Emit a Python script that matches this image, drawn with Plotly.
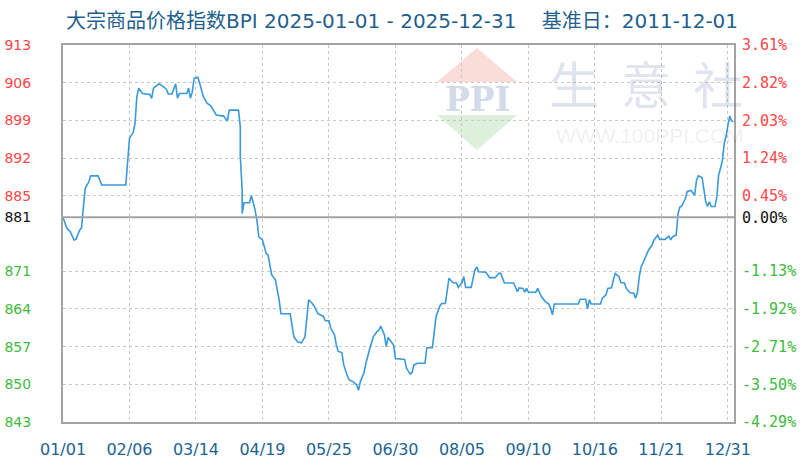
import plotly.graph_objects as go

# ---------------- data ----------------
TITLE = "大宗商品价格指数BPI 2025-01-01 - 2025-12-31\u00a0\u00a0\u00a0\u00a0基准日：2011-12-01"
BASE = 881

day_offsets = [0, 2, 4, 6, 7, 9, 10, 11, 12, 14, 15, 19, 21, 34, 35, 36, 38, 39, 40, 41,
               43, 47, 48, 49, 52, 53, 56, 57, 59, 61, 62, 63, 67, 68, 69, 70, 71, 73, 74, 76,
               78, 80, 83, 87, 89, 90, 95, 96, 96, 97, 97, 98, 101, 102, 104, 105, 106, 108, 110, 111,
               113, 115, 117, 118, 123, 124, 125, 127, 129, 131, 132, 133, 135, 136, 138, 141, 142, 144, 145, 147,
               148, 149, 151, 152, 154, 155, 157, 159, 160, 161, 163, 164, 166, 168, 170, 171, 172, 174, 175, 176,
               179, 180, 185, 186, 188, 189, 190, 192, 196, 197, 200, 201, 202, 204, 205, 207, 208, 209, 211, 213,
               214, 216, 217, 218, 221, 222, 223, 224, 225, 229, 231, 234, 236, 237, 239, 244, 246, 247, 249, 250,
               251, 252, 256, 257, 259, 261, 263, 264, 265, 266, 279, 280, 283, 284, 285, 286, 291, 292, 294, 295,
               297, 298, 299, 301, 302, 304, 305, 307, 309, 310, 311, 312, 313, 314, 316, 317, 319, 320, 322, 323,
               326, 328, 329, 330, 332, 333, 334, 335, 337, 338, 340, 342, 343, 344, 346, 347, 348, 349, 350, 351,
               353, 354, 355, 356, 357, 358, 359, 360, 361, 362, 363]
bpi_values = [881.0, 879.0, 878.3, 876.8, 876.9, 878.6, 879.0, 883.0, 886.4, 887.6, 888.7, 888.7, 887.0, 887.0, 892.0, 895.7, 896.7, 898.5, 903.4, 905.0,
              904.0, 903.8, 903.1, 905.0, 905.8, 905.6, 904.8, 903.9, 903.9, 905.8, 903.1, 904.0, 904.0, 905.0, 903.1, 904.3, 906.8, 907.0, 905.9, 903.4,
              902.2, 901.7, 900.0, 899.8, 898.9, 900.9, 900.9, 897.8, 892.3, 886.1, 881.7, 883.7, 883.7, 885.0, 882.4, 880.5, 877.4, 876.8, 874.3, 874.0,
              870.3, 869.4, 865.7, 863.1, 863.1, 861.0, 858.8, 857.9, 857.7, 858.8, 862.6, 865.7, 865.0, 864.5, 863.1, 862.6, 861.8, 861.8, 860.4, 859.2,
              857.3, 856.1, 855.9, 853.6, 851.5, 850.8, 850.5, 849.9, 848.9, 850.5, 852.2, 853.9, 856.5, 858.8, 859.8, 860.0, 860.8, 859.2, 857.0, 858.7,
              857.3, 854.8, 854.6, 853.0, 851.9, 852.2, 853.6, 853.9, 853.9, 856.8, 856.8, 859.5, 862.6, 864.5, 865.0, 865.0, 867.6, 869.7, 868.9, 868.8,
              868.0, 868.9, 870.0, 868.0, 868.0, 869.7, 871.2, 871.8, 870.9, 870.8, 869.8, 869.8, 870.6, 870.6, 868.8, 868.8, 867.2, 867.9, 867.8, 867.1,
              867.8, 867.1, 867.1, 867.8, 866.3, 865.4, 864.9, 864.1, 862.9, 864.9, 864.9, 865.8, 865.8, 864.0, 865.7, 864.9, 864.9, 866.0, 866.6, 867.8,
              867.9, 869.4, 870.6, 870.0, 868.9, 868.8, 867.8, 867.0, 866.9, 866.0, 867.0, 870.0, 871.8, 872.5, 874.3, 874.9, 875.9, 876.8, 877.7, 876.9,
              876.9, 877.5, 876.8, 877.4, 877.7, 881.7, 882.9, 883.1, 884.5, 885.8, 886.0, 885.1, 887.9, 888.7, 888.4, 886.1, 883.9, 883.0, 883.9, 883.0,
              883.0, 884.8, 888.9, 890.1, 891.6, 894.7, 896.0, 898.1, 899.8, 898.9, 898.8]

x_tick_days = [0, 36, 72, 108, 144, 180, 216, 252, 288, 324, 360]
x_tick_labels = ["01/01", "02/06", "03/14", "04/19", "05/25", "06/30", "08/05", "09/10", "10/16", "11/21", "12/31"]

y_tick_values = [913, 906, 899, 892, 885, 881, 871, 864, 857, 850, 843]
pct_tick_labels = ["3.61%", "2.82%", "2.03%", "1.24%", "0.45%", "0.00%", "-1.13%", "-1.92%", "-2.71%", "-3.50%", "-4.29%"]

# ---------------- style ----------------
RED = "#ff4646"
GREEN = "#3dbb3d"
BLACK = "#111111"
LINE = "#3a9ad9"
BORDER = "#a3a3a3"
GRID = "#c8c8c8"


def tick_color(v):
    if v > BASE:
        return RED
    if v < BASE:
        return GREEN
    return BLACK


left_text = [f'<span style="color:{tick_color(v)}">{v}</span>' for v in y_tick_values]
right_text = [f'<span style="color:{tick_color(v)}">{t}</span>' for v, t in zip(y_tick_values, pct_tick_labels)]

# plot area in pixels: x 63..734, y 45..422
L, R, T, B = 63, 734, 45, 422
W, H = 812, 469


def px(x):
    return (x - L) / (R - L)


def py(y):
    return (B - y) / (B - T)


fig = go.Figure()
fig.add_trace(go.Scatter(x=day_offsets, y=bpi_values, mode="lines",
                         line=dict(color=LINE, width=1.6), hoverinfo="skip", showlegend=False))
fig.add_trace(go.Scatter(x=day_offsets, y=bpi_values, mode="lines", yaxis="y2",
                         line=dict(color="rgba(0,0,0,0)", width=0), hoverinfo="skip", showlegend=False))

shapes = [
    # logo watermark
    dict(type="path", xref="paper", yref="paper", layer="below",
         path=f"M {px(477)},{py(48)} L {px(437)},{py(82)} L {px(517)},{py(82)} Z",
         fillcolor="#fadcd8", line=dict(width=0)),
    dict(type="path", xref="paper", yref="paper", layer="below",
         path=f"M {px(437)},{py(115)} L {px(517)},{py(115)} L {px(477)},{py(150)} Z",
         fillcolor="#dcf0dc", line=dict(width=0)),
    # base line
    dict(type="line", xref="paper", yref="y", x0=0, x1=1, y0=BASE, y1=BASE,
         line=dict(color=BORDER, width=2), layer="above"),
]

annotations = [
    dict(text="<b>PPI</b>", xref="paper", yref="paper", x=px(477), y=py(99), showarrow=False,
         font=dict(family="DejaVu Serif", size=33, color="#d3dbea"), xanchor="center", yanchor="middle"),
    dict(text="WWW.100PPI.COM", xref="paper", yref="paper", x=px(650), y=py(135), showarrow=False,
         font=dict(family="Liberation Sans", size=21, color="rgba(0,0,0,0.075)"), xanchor="center", yanchor="middle"),
]
for ch, cx in zip("生意社", [574, 646, 718]):
    annotations.append(dict(text=ch, xref="paper", yref="paper", x=px(cx), y=py(82), showarrow=False,
                            font=dict(family="Noto Sans CJK SC", size=50, color="rgba(60,90,150,0.16)"),
                            xanchor="center", yanchor="middle"))

fig.update_layout(
    width=W, height=H,
    margin=dict(l=L, r=W - R, t=T, b=H - B, pad=0, autoexpand=False),
    paper_bgcolor="white", plot_bgcolor="white",
    showlegend=False,
    hovermode=False,
    title=dict(text=TITLE, x=402 / W, xanchor="center", y=1 - 21 / H, yanchor="middle",
               font=dict(family="DejaVu Sans, Noto Sans CJK SC", size=20, color="#1f5f8e")),
    xaxis=dict(range=[0, 363.3], tickmode="array", tickvals=x_tick_days, ticktext=x_tick_labels,
               showgrid=True, gridcolor=GRID, griddash="dot", gridwidth=1,
               showline=True, linecolor=BORDER, linewidth=2, mirror=True, automargin=False,
               zeroline=False, ticks="", ticklabelstandoff=12,
               tickfont=dict(family="DejaVu Sans", size=16, color="#1d6392")),
    yaxis=dict(range=[843, 913], tickmode="array", tickvals=y_tick_values, ticktext=left_text,
               showgrid=True, gridcolor=GRID, griddash="dot", gridwidth=1,
               showline=True, linecolor=BORDER, linewidth=2, mirror=True, automargin=False,
               zeroline=False, ticks="", ticklabelstandoff=27,
               tickfont=dict(family="DejaVu Sans", size=14, color=BLACK)),
    yaxis2=dict(range=[843, 913], overlaying="y", side="right", tickmode="array",
                tickvals=y_tick_values, ticktext=right_text, showgrid=False, zeroline=False,
                showline=False, ticks="", ticklabelstandoff=7, automargin=False,
                tickfont=dict(family="DejaVu Sans Mono", size=15, color=BLACK)),
    shapes=shapes,
    annotations=annotations,
)

fig.write_html("out.html", config={"displayModeBar": False, "staticPlot": True},
               post_script="document.body.style.margin='0';")
